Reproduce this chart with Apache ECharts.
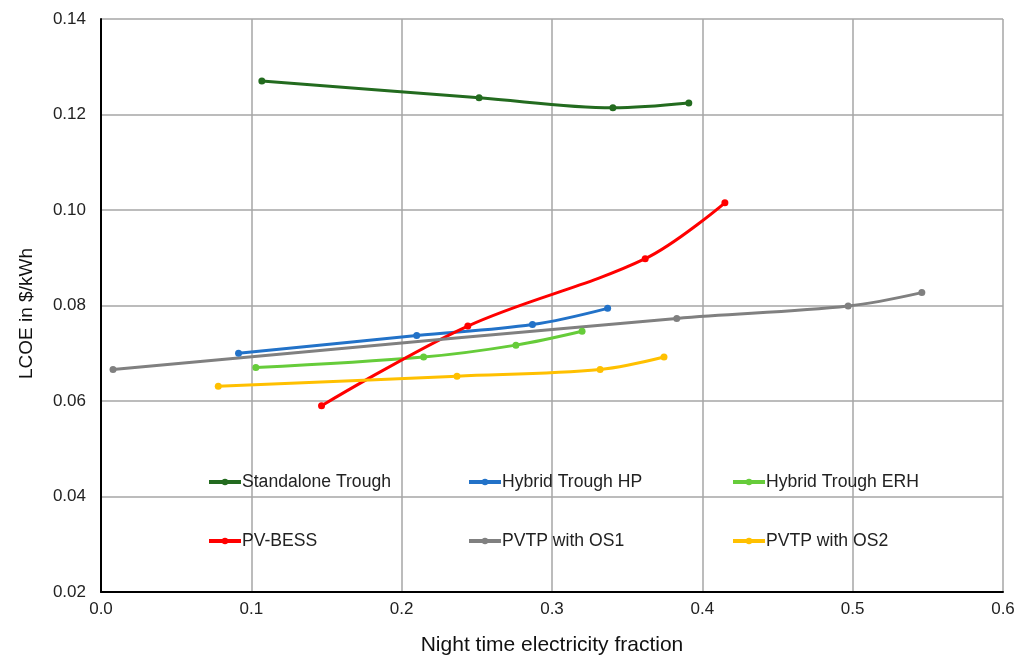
<!DOCTYPE html>
<html><head><meta charset="utf-8">
<script src="https://cdn.jsdelivr.net/npm/echarts@6/dist/echarts.min.js"></script>
<style>html,body{margin:0;padding:0;background:#fff}#c{width:1029px;height:657px}</style>
</head><body><div id="c"></div>
<script>
const seriesNames = ['Standalone Trough','Hybrid Trough HP','Hybrid Trough ERH','PV-BESS','PVTP with OS1','PVTP with OS2'];
const standaloneTrough = [[0.107,0.1270],[0.2515,0.1235],[0.3405,0.1214],[0.391,0.1224]];
const hybridTroughHP = [[0.0915,0.0700],[0.210,0.0737],[0.287,0.0760],[0.337,0.0794]];
const hybridTroughERH = [[0.103,0.0670],[0.2146,0.0692],[0.276,0.0717],[0.320,0.0746]];
const pvBess = [[0.1467,0.0590],[0.244,0.0757],[0.362,0.0898],[0.415,0.1015]];
const pvtpOS1 = [[0.008,0.0666],[0.383,0.0773],[0.497,0.0799],[0.546,0.0827]];
const pvtpOS2 = [[0.078,0.0631],[0.2368,0.0652],[0.332,0.0666],[0.3745,0.0692]];
const colors = ['#236b1f','#2272c8','#66cc3a','#ff0000','#808080','#ffc000'];
const allData = [standaloneTrough,hybridTroughHP,hybridTroughERH,pvBess,pvtpOS1,pvtpOS2];

const font = 'Liberation Sans, Arial, sans-serif';
const chart = echarts.init(document.getElementById('c'));
const legendBase = {
  orient:'vertical', top:473, padding:0, itemGap:41, itemWidth:32, itemHeight:8,
  lineStyle:{width:4},
  textStyle:{fontFamily:font, fontSize:17.6, color:'#222', padding:[0,0,0,-4]}
};
chart.setOption({
  animation:false,
  color: colors,
  grid:{left:101, right:26, top:19, bottom:65, outerBoundsMode:'none', containLabel:false},
  xAxis:{type:'value', min:0, max:0.6, interval:0.1,
    name:'Night time electricity fraction', nameLocation:'middle', nameGap:43,
    nameTextStyle:{fontFamily:font, fontSize:21, color:'#111'},
    axisLine:{show:true, onZero:false, lineStyle:{color:'#000', width:2}},
    axisTick:{show:false},
    axisLabel:{fontFamily:font, fontSize:17, color:'#222', margin:9, formatter:v=>v.toFixed(1)},
    splitLine:{show:true, lineStyle:{color:'#a6a6a6', width:1.5}}
  },
  yAxis:{type:'value', min:0.02, max:0.14, interval:0.02,
    name:'LCOE in $/kWh', nameLocation:'middle', nameGap:65,
    nameTextStyle:{fontFamily:font, fontSize:19, color:'#111', padding:[0,16,0,0]},
    axisLine:{show:true, onZero:false, lineStyle:{color:'#000', width:2}},
    axisTick:{show:false},
    axisLabel:{fontFamily:font, fontSize:17, color:'#222', margin:15, formatter:v=>v.toFixed(2)},
    splitLine:{show:true, lineStyle:{color:'#a6a6a6', width:1.5}}
  },
  legend:[
    Object.assign({left:207, data:[seriesNames[0],seriesNames[3]]}, legendBase),
    Object.assign({left:467, data:[seriesNames[1],seriesNames[4]]}, legendBase),
    Object.assign({left:731, data:[seriesNames[2],seriesNames[5]]}, legendBase)
  ],
  series: allData.map((d,i)=>({
    name: seriesNames[i], type:'line', data:d, smooth:0.35,
    symbol:'circle', symbolSize:7,
    lineStyle:{width:3, color:colors[i]},
    itemStyle:{color:colors[i]}
  }))
});
</script></body></html>
